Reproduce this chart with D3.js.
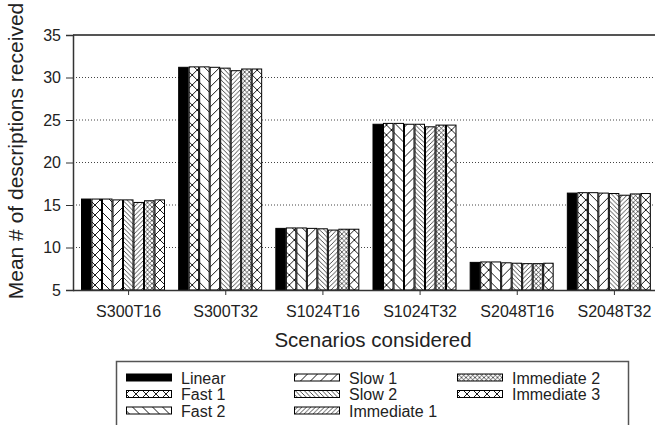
<!DOCTYPE html>
<html>
<head>
<meta charset="utf-8">
<script src="https://cdn.jsdelivr.net/npm/d3@7"></script>
<style>
  body { margin: 0; background: #fff; }
  svg { display: block; font-family: "Liberation Sans", Arial, sans-serif; }
</style>
</head>
<body>
<div id="chart"></div>
<script>
// data
const scenarios = ["S300T16", "S300T32", "S1024T16", "S1024T32", "S2048T16", "S2048T32"];
const seriesNames = ["Linear", "Fast 1", "Fast 2", "Slow 1", "Slow 2", "Immediate 1", "Immediate 2", "Immediate 3"];
const linear     = [15.7, 31.2, 12.25, 24.5, 8.25, 16.4];
const fast1      = [15.7, 31.25, 12.3, 24.6, 8.3, 16.45];
const fast2      = [15.7, 31.25, 12.3, 24.6, 8.3, 16.45];
const slow1      = [15.6, 31.2, 12.25, 24.5, 8.2, 16.4];
const slow2      = [15.6, 31.1, 12.2, 24.5, 8.15, 16.35];
const immediate1 = [15.3, 30.8, 12.05, 24.2, 8.1, 16.15];
const immediate2 = [15.5, 31.0, 12.15, 24.4, 8.1, 16.3];
const immediate3 = [15.6, 31.0, 12.15, 24.4, 8.15, 16.35];
const yTicks = [5, 10, 15, 20, 25, 30, 35];

const seriesValues = [linear, fast1, fast2, slow1, slow2, immediate1, immediate2, immediate3];
const fills = ["solid", "cross", "back", "fwd", "backDense", "fwdDense", "crossDense", "cross"];

const width = 655, height = 425;
const svg = d3.select("#chart").append("svg")
    .attr("width", width)
    .attr("height", height);

// hatch patterns
const defs = svg.append("defs");
function hatch(id, size, sw, paths) {
    let p = defs.append("pattern")
        .attr("id", id)
        .attr("patternUnits", "userSpaceOnUse")
        .attr("width", size).attr("height", size);
    p.append("rect").attr("width", size).attr("height", size).attr("fill", "#fff");
    paths.forEach(d => p.append("path").attr("d", d).attr("stroke", "#000").attr("stroke-width", sw).attr("fill", "none"));
}
function back(s) { return `M0,0L${s},${s}M${-s/2},${s/2}L${s/2},${1.5*s}M${s/2},${-s/2}L${1.5*s},${s/2}`; }
function fwd(s) { return `M0,${s}L${s},0M${-s/2},${s/2}L${s/2},${-s/2}M${s/2},${1.5*s}L${1.5*s},${s/2}`; }
hatch("back", 10, 0.9, [back(10)]);
hatch("fwd", 10, 0.9, [fwd(10)]);
hatch("cross", 10, 0.9, [back(10), fwd(10)]);
hatch("backDense", 4.5, 0.7, [back(4.5)]);
hatch("fwdDense", 4.5, 0.7, [fwd(4.5)]);
hatch("crossDense", 4.5, 0.6, [back(4.5), fwd(4.5)]);
const fillOf = f => f === "solid" ? "#000" : `url(#${f})`;

// plot area
const plotLeft = 73, plotTop = 35, plotRight = 655, plotBottom = 290;

const y = d3.scaleLinear().domain([5, 35]).range([plotBottom, plotTop]);
const x0 = d3.scaleBand().domain(scenarios).range([80, 663]);
const x1 = d3.scaleBand().domain(seriesNames).range([1, 85]);

// dotted grid
svg.append("g").selectAll("line")
    .data(yTicks.filter(t => t > 5 && t < 35))
    .enter().append("line")
    .attr("x1", plotLeft).attr("x2", plotRight)
    .attr("y1", d => y(d)).attr("y2", d => y(d))
    .attr("stroke", "#444")
    .attr("stroke-width", 1)
    .attr("stroke-dasharray", "1,2");

// top frame
svg.append("line")
    .attr("x1", plotLeft).attr("x2", plotRight)
    .attr("y1", plotTop).attr("y2", plotTop)
    .attr("stroke", "#555").attr("stroke-width", 2);

// bars
const groups = svg.append("g").selectAll("g")
    .data(scenarios)
    .enter().append("g")
    .attr("transform", d => `translate(${x0(d)},0)`);

groups.selectAll("rect")
    .data((d, i) => seriesNames.map((s, j) => ({ s: s, v: seriesValues[j][i], f: fills[j] })))
    .enter().append("rect")
    .attr("x", d => x1(d.s) + 0.5)
    .attr("width", x1.bandwidth() - 1)
    .attr("y", d => y(d.v))
    .attr("height", d => y(5) - y(d.v))
    .attr("fill", d => fillOf(d.f))
    .attr("stroke", "#000")
    .attr("stroke-width", 1);

// axes
const yAxis = svg.append("g")
    .attr("transform", `translate(${plotLeft},0)`)
    .call(d3.axisLeft(y).tickValues(yTicks).tickSize(7).tickPadding(5));
yAxis.select(".domain").attr("stroke", "#333").attr("stroke-width", 1.5);
yAxis.selectAll(".tick line").attr("stroke", "#333");
yAxis.selectAll("text").attr("font-size", 16).attr("fill", "#222").attr("font-family", "Liberation Sans, Arial, sans-serif");

const xAxis = svg.append("g")
    .attr("transform", `translate(0,${plotBottom})`)
    .call(d3.axisBottom(x0).tickSize(5).tickPadding(11).tickSizeOuter(0));
xAxis.select(".domain").attr("d", `M${plotLeft},0.5H${plotRight}`).attr("stroke", "#333").attr("stroke-width", 1.5);
xAxis.selectAll(".tick line").attr("stroke", "#333");
xAxis.selectAll("text").attr("font-size", 16).attr("fill", "#222").attr("font-family", "Liberation Sans, Arial, sans-serif");

// titles
svg.append("text")
    .attr("x", 373).attr("y", 347)
    .attr("text-anchor", "middle")
    .attr("font-size", 20.5)
    .attr("fill", "#222")
    .text("Scenarios considered");

svg.append("text")
    .attr("transform", "translate(23,151) rotate(-90)")
    .attr("text-anchor", "middle")
    .attr("font-size", 21)
    .attr("fill", "#222")
    .text("Mean # of descriptions received");

// legend
const legend = svg.append("g");
legend.append("rect")
    .attr("x", 116.5).attr("y", 361.5)
    .attr("width", 512).attr("height", 70)
    .attr("fill", "#fff")
    .attr("stroke", "#555").attr("stroke-width", 1.5);

const colX = [126, 294, 457];
const rowY = [377.5, 394, 410.5];
const items = legend.selectAll("g.item")
    .data(seriesNames.map((s, j) => ({ s: s, f: fills[j], col: Math.floor(j / 3), row: j % 3 })))
    .enter().append("g")
    .attr("class", "item")
    .attr("transform", d => `translate(${colX[d.col]},${rowY[d.row]})`);

items.append("rect")
    .attr("x", 0.5).attr("y", -3.5)
    .attr("width", 45).attr("height", 7)
    .attr("fill", d => fillOf(d.f))
    .attr("stroke", "#000").attr("stroke-width", 1);

items.append("text")
    .attr("x", 55).attr("y", 6)
    .attr("font-size", 16)
    .attr("fill", "#222")
    .text(d => d.s);
</script>
</body>
</html>
